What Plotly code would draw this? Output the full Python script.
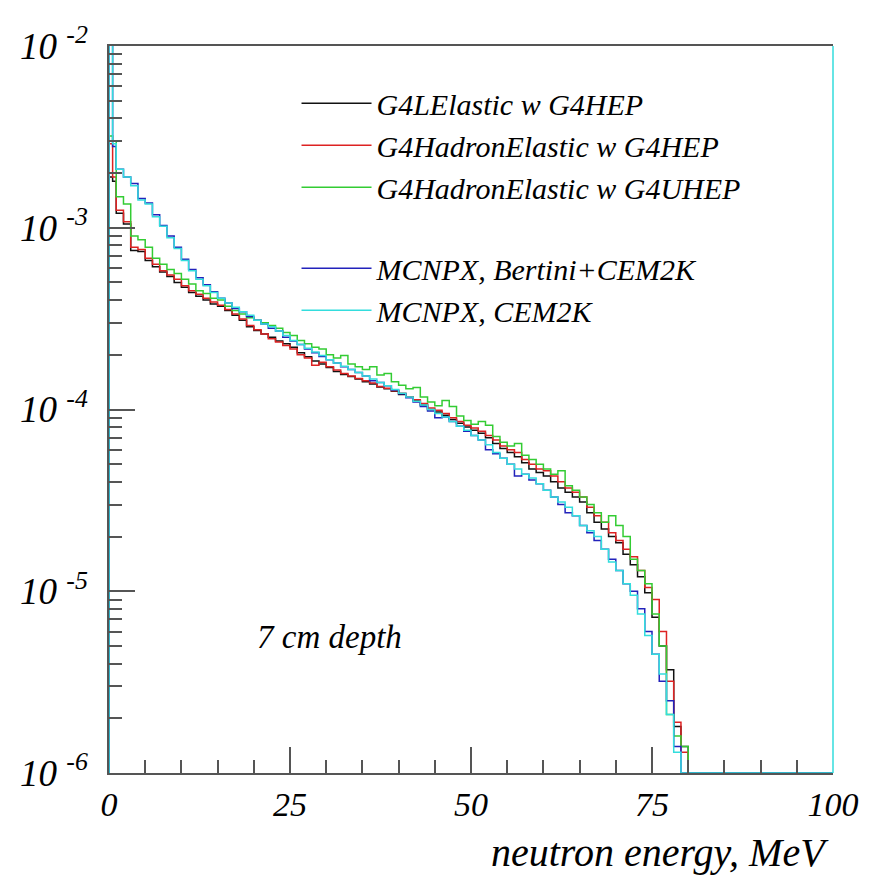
import plotly.graph_objects as go

# ---------------- data (bin contents in units of 1e-4) ----------------
EDGES = [0, 0.5] + list(range(1, 101))   # bin edges, MeV
SCALE = 1e-4
YMIN, YMAX = 1e-6, 1e-2

NAMES = ["G4LElastic w G4HEP",
         "G4HadronElastic w G4HEP",
         "G4HadronElastic w G4UHEP",
         "MCNPX, Bertini+CEM2K",
         "MCNPX, CEM2K"]

g4l_hep = [19, 18, 12, 10.5, 7.5, 7.4, 6.6, 6.1, 5.7, 5.4, 5.0, 4.7, 4.4, 4.2, 4.0, 3.8,
           3.7, 3.5, 3.3, 3.1, 2.85, 2.72, 2.6, 2.5, 2.38, 2.3, 2.2, 2.05, 1.95, 1.85,
           1.78, 1.7, 1.62, 1.56, 1.52, 1.47, 1.42, 1.38, 1.33, 1.30, 1.26, 1.21, 1.17,
           1.12, 1.06, 1.00, 0.97, 0.93, 0.88, 0.84, 0.80, 0.77, 0.74, 0.70, 0.65, 0.61,
           0.58, 0.55, 0.51, 0.47, 0.45, 0.43, 0.40, 0.37, 0.35, 0.33, 0.31, 0.27, 0.24,
           0.22, 0.20, 0.185, 0.16, 0.14, 0.12, 0.098, 0.072, 0.05, 0.037, 0.018, 0.014, 0]

g4had_hep = [29, 19, 12.5, 10.8, 7.8, 7.6, 6.8, 6.3, 5.8, 5.5, 5.2, 4.8, 4.5, 4.3, 4.1, 3.9,
             3.75, 3.55, 3.35, 3.15, 2.9, 2.75, 2.6, 2.45, 2.35, 2.25, 2.15, 2.0, 1.92, 1.75,
             1.82, 1.72, 1.65, 1.58, 1.53, 1.48, 1.44, 1.40, 1.34, 1.31, 1.27, 1.23, 1.17,
             1.13, 1.08, 1.02, 0.99, 0.95, 0.90, 0.86, 0.82, 0.79, 0.76, 0.72, 0.68, 0.63,
             0.60, 0.58, 0.53, 0.50, 0.47, 0.46, 0.43, 0.40, 0.37, 0.35, 0.33, 0.29, 0.26,
             0.24, 0.21, 0.19, 0.17, 0.155, 0.13, 0.105, 0.09, 0.06, 0.032, 0.019, 0.013, 0]

g4had_uhep = [32, 30, 14.8, 13.5, 9.0, 8.6, 7.8, 6.8, 6.3, 5.9, 5.6, 5.2, 4.9, 4.5, 4.35, 4.1,
              4.0, 3.7, 3.5, 3.35, 3.2, 3.1, 3.0, 2.9, 2.8, 2.65, 2.55, 2.4, 2.3, 2.2,
              2.15, 2.0, 1.92, 1.98, 1.78, 1.72, 1.66, 1.72, 1.55, 1.58, 1.42, 1.36, 1.30,
              1.32, 1.17, 1.10, 1.05, 1.12, 1.04, 0.92, 0.87, 0.83, 0.86, 0.82, 0.71, 0.66,
              0.63, 0.65, 0.56, 0.53, 0.50, 0.47, 0.44, 0.46, 0.38, 0.36, 0.33, 0.30, 0.27,
              0.24, 0.26, 0.23, 0.20, 0.15, 0.13, 0.11, 0.075, 0.05, 0.021, 0.016, 0.014, 0]

mcnpx_bert = [200, 28, 21, 19, 17.5, 14.5, 13.7, 11.8, 10.3, 9.0, 7.8, 6.7, 5.9, 5.3, 4.85, 4.45,
              4.1, 3.85, 3.6, 3.45, 3.25, 3.1, 2.95, 2.8, 2.7, 2.5, 2.38, 2.28, 2.15, 2.05,
              1.96, 1.88, 1.8, 1.72, 1.66, 1.6, 1.53, 1.44, 1.41, 1.35, 1.28, 1.22, 1.16,
              1.10, 1.04, 0.98, 0.90, 0.91, 0.86, 0.81, 0.76, 0.72, 0.68, 0.60, 0.57, 0.54,
              0.50, 0.43, 0.44, 0.41, 0.39, 0.36, 0.33, 0.30, 0.27, 0.26, 0.23, 0.21, 0.19,
              0.17, 0.15, 0.13, 0.11, 0.10, 0.08, 0.06, 0.045, 0.032, 0.025, 0.014, 0, 0]

mcnpx_cem = [200, 29, 21, 19, 17, 14.2, 13.5, 11.5, 10.2, 8.8, 7.7, 6.6, 5.8, 5.2, 4.8, 4.4,
             4.1, 3.85, 3.65, 3.45, 3.3, 3.1, 2.95, 2.85, 2.7, 2.55, 2.4, 2.28, 2.17, 2.07,
             1.98, 1.88, 1.8, 1.73, 1.66, 1.6, 1.53, 1.47, 1.41, 1.35, 1.29, 1.23, 1.17,
             1.11, 1.06, 1.0, 0.95, 0.91, 0.86, 0.81, 0.77, 0.72, 0.68, 0.64, 0.58, 0.54,
             0.50, 0.47, 0.44, 0.42, 0.39, 0.36, 0.33, 0.31, 0.29, 0.26, 0.23, 0.215, 0.2,
             0.17, 0.145, 0.13, 0.11, 0.095, 0.075, 0.057, 0.045, 0.035, 0.021, 0.013, 0, 0]

SERIES = [g4l_hep, g4had_hep, g4had_uhep, mcnpx_bert, mcnpx_cem]
COLORS = ["#111111", "#dd2222", "#33cc33", "#2222bb", "#33dddd"]
GROUPS = ["g4", "g4", "g4", "mcnpx", "mcnpx"]

X_TICKS = [0, 25, 50, 75, 100]
Y_TICKS = [1e-6, 1e-5, 1e-4, 1e-3, 1e-2]
Y_TICKTEXT = ["10 <sup>-6</sup>", "10 <sup>-5</sup>", "10 <sup>-4</sup>",
              "10 <sup>-3</sup>", "10 <sup>-2</sup>"]

AX = "#555555"
FONT = "Liberation Serif"


def step_xy(vals):
    nb = len(EDGES) - 1
    v = list(vals) + [0] * (nb - len(vals))
    y = [c * SCALE if c > 0 else YMIN for c in v]
    xs = [EDGES[0]] + EDGES
    ys = [YMIN] + y + [y[-1]]
    return xs, ys


fig = go.Figure()
for name, vals, col, grp in zip(NAMES, SERIES, COLORS, GROUPS):
    xs, ys = step_xy(vals)
    fig.add_trace(go.Scatter(x=xs, y=ys, mode="lines", name=name,
                             line=dict(color=col, width=1.5, shape="hv"),
                             legendgroup=grp))

minor_y = [m * 10.0 ** e for e in range(-6, -2) for m in range(2, 10)]

# page body has an 8px margin: figure is sized so the plot frame lands at
# x 105..833, y 46..773 of the window
fig.update_layout(
    width=866, height=872,
    margin=dict(l=97, r=41, t=38, b=107),
    paper_bgcolor="white", plot_bgcolor="white",
    font=dict(family=FONT, color="black"),
    showlegend=True,
    legend=dict(x=0.259, y=0.957, xanchor="left", yanchor="top",
                font=dict(family=FONT, size=30, style="italic", color="black"),
                tracegroupgap=39, bgcolor="rgba(0,0,0,0)", itemwidth=70,
                traceorder="grouped"),
    xaxis=dict(range=[0, 100], tickmode="array", tickvals=X_TICKS,
               ticks="inside", ticklen=26, tickwidth=1.5, tickcolor=AX,
               showline=True, linecolor=AX, linewidth=1.5, mirror=True,
               showgrid=False, zeroline=False, ticklabelstandoff=0,
               tickfont=dict(family=FONT, size=34, style="italic", color="black"),
               minor=dict(dtick=5, ticks="inside", ticklen=13, tickwidth=1.5,
                          tickcolor=AX, showgrid=False)),
    yaxis=dict(type="log", range=[-6, -2], tickmode="array", tickvals=Y_TICKS,
               ticktext=Y_TICKTEXT,
               ticks="inside", ticklen=26, tickwidth=1.5, tickcolor=AX,
               showline=True, linecolor=AX, linewidth=1.5, mirror=False,
               showgrid=False, zeroline=False, ticklabelstandoff=12,
               tickfont=dict(family=FONT, size=37, style="italic", color="black"),
               minor=dict(tickmode="array", tickvals=minor_y, ticks="inside",
                          ticklen=13, tickwidth=1.5, tickcolor=AX, showgrid=False)),
    shapes=[dict(type="line", xref="paper", yref="paper", x0=1, x1=1, y0=0, y1=1,
                 line=dict(color=COLORS[4], width=1.5))],
    annotations=[
        dict(text="7 cm depth", xref="paper", yref="paper", x=0.202, y=0.187,
             xanchor="left", yanchor="middle", showarrow=False,
             font=dict(family=FONT, size=33, style="italic", color="black")),
        dict(text="neutron energy, MeV", xref="paper", yref="paper", x=0.997, y=-0.11,
             xanchor="right", yanchor="middle", showarrow=False,
             font=dict(family=FONT, size=40, style="italic", color="black")),
    ],
)

fig.write_html("out.html")
